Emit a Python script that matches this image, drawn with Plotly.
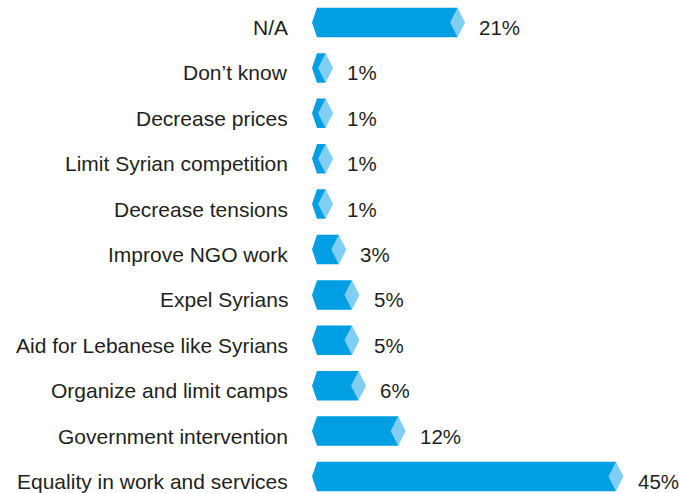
import plotly.graph_objects as go

# Survey answers and their shares (%), top to bottom
categories = [
    "N/A",
    "Don’t know",
    "Decrease prices",
    "Limit Syrian competition",
    "Decrease tensions",
    "Improve NGO work",
    "Expel Syrians",
    "Aid for Lebanese like Syrians",
    "Organize and limit camps",
    "Government intervention",
    "Equality in work and services",
]
values = [21, 1, 1, 1, 1, 3, 5, 5, 6, 12, 45]
value_labels = [f"{v}%" for v in values]

DARK = "#009FE3"
LIGHT = "#80CFF3"
TEXT = "#231F20"
FONT = "Liberation Sans, Arial, sans-serif"

# bar geometry in axis units
HALF_H = 0.325     # half bar thickness (category units)
TIP = -1.06        # left point of the chevron
CORNER = -0.30     # where the chevron meets the flat edges
DIAM = 1.14        # half width of the light diamond cap

body_x, body_y, cap_x, cap_y = [], [], [], []
for i, v in enumerate(values):
    top, bot = i - HALF_H, i + HALF_H
    body_x += [TIP, CORNER, v, v, CORNER, TIP, None]
    body_y += [i, top, top, bot, bot, i, None]
    cap_x += [v - DIAM, v, v + DIAM, v, v - DIAM, None]
    cap_y += [i, top, i, bot, i, None]

fig = go.Figure()
fig.add_trace(go.Scatter(x=body_x, y=body_y, fill="toself", fillcolor=DARK,
                         mode="lines", line=dict(width=0), hoverinfo="skip",
                         showlegend=False))
fig.add_trace(go.Scatter(x=cap_x, y=cap_y, fill="toself", fillcolor=LIGHT,
                         mode="lines", line=dict(width=0), hoverinfo="skip",
                         showlegend=False))

annotations = []
for i, (cat, v, lab) in enumerate(zip(categories, values, value_labels)):
    annotations.append(dict(
        x=0, xref="paper", y=i, yref="y", text=cat, showarrow=False,
        xanchor="right", yanchor="middle", xshift=-10, yshift=-5,
        font=dict(family=FONT, size=21, color=TEXT)))
    annotations.append(dict(
        x=v + DIAM, xref="x", y=i, yref="y", text=lab, showarrow=False,
        xanchor="left", yanchor="middle", xshift=12, yshift=-5,
        font=dict(family=FONT, size=20.5, color=TEXT)))

fig.update_layout(
    width=679, height=493,
    margin=dict(l=300, r=0, t=0, b=0),
    paper_bgcolor="white", plot_bgcolor="white",
    annotations=annotations,
    xaxis=dict(range=[-2.88, 54.55], visible=False, fixedrange=True),
    yaxis=dict(range=[10.363, -0.4956], visible=False, fixedrange=True),
)

fig.write_html("out.html")
